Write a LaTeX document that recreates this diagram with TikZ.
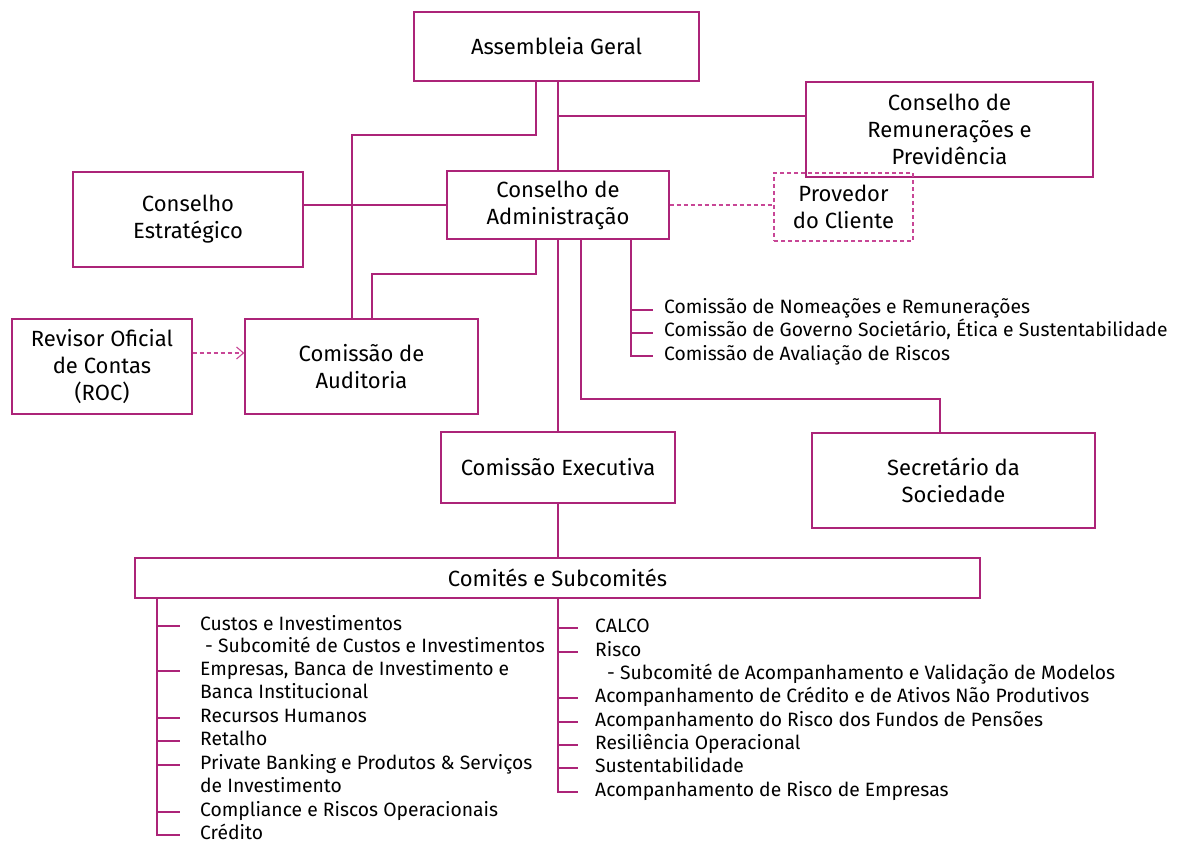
\documentclass[tikz,border=0pt]{standalone}
\usepackage{fontspec}
\setmainfont{Fira Sans}
\usetikzlibrary{arrows.meta,calc}
\definecolor{mag}{RGB}{172,36,120}
\definecolor{magd}{RGB}{200,70,150}
\begin{document}
\begin{tikzpicture}[x=1pt,y=-1pt,
  box/.style={draw=mag,line width=1.3pt,align=center,font=\fontsize{22}{27}\selectfont,inner sep=0pt},
  ln/.style={draw=mag,line width=1.3pt},
  dln/.style={draw=magd,line width=1.1pt,dash pattern=on 4pt off 3pt},
  itm/.style={anchor=west,inner sep=0pt,text height=13pt,text depth=5pt,font=\fontsize{19.3}{23}\selectfont}]
\useasboundingbox (0,0) rectangle (1179,845);
\fill[white] (0,0) rectangle (1179,845);
% boxes
\node[box,minimum width=285pt,minimum height=69pt] (AG) at (556.5,46.5) {Assembleia Geral};
\node[box,minimum width=287pt,minimum height=95pt] (Rem) at (949.5,129.5) {Conselho de\\Remunerações e\\Previdência};
\node[box,minimum width=222pt,minimum height=68pt] (CA) at (558,205) {Conselho de\\Administração};
\node[box,draw=magd,line width=1.1pt,dash pattern=on 4pt off 3pt,minimum width=139pt,minimum height=68pt] (Prov) at (843.5,207) {Provedor\\do Cliente};
\node[box,minimum width=230pt,minimum height=95pt] (Estr) at (188,219.5) {Conselho\\Estratégico};
\node[box,minimum width=180pt,minimum height=95pt] (Rev) at (102,366.5) {Revisor Oficial\\de Contas\\(ROC)};
\node[box,minimum width=233pt,minimum height=95pt] (Aud) at (361.5,366.5) {Comissão de\\Auditoria};
\node[box,minimum width=234pt,minimum height=71pt] (CE) at (558,467.5) {Comissão Executiva};
\node[box,minimum width=283pt,minimum height=95pt] (Sec) at (953.5,480.5) {Secretário da\\Sociedade};
\node[box,minimum width=845pt,minimum height=40pt] (Com) at (557.5,578) {Comités e Subcomités};
% connectors
\coordinate (b1) at (352,135);
\draw[ln] ([xshift=-20.5pt]AG.south) |- (b1) -- (b1 |- Aud.north);
\draw[ln] ([xshift=1.5pt]AG.south) -- (CA.north);
\coordinate (b2) at (558,116);
\draw[ln] (b2) -- (b2 -| Rem.west);
\draw[ln] (Estr.east |- CA.west) -- (CA.west);
\draw[dln] (CA.east) -- (CA.east -| Prov.west);
\coordinate (b3) at (372,274);
\draw[ln] ([xshift=-22pt]CA.south) |- (b3) -- (b3 |- Aud.north);
\draw[ln] (CA.south) -- (CE.north);
\coordinate (b4) at (940,399);
\draw[ln] ([xshift=23pt]CA.south) |- (b4) -- (b4 |- Sec.north);
\draw[dln,-{Straight Barb[length=7pt,width=12pt]}] ([yshift=13.5pt]Rev.east) -- ([yshift=13.5pt]Aud.west);
\draw[ln] (CE.south) -- (CE.south |- Com.north);
% commissions
\node[itm] (C1) at (664,310) {Comissão de Nomeações e Remunerações};
\node[itm] (C2) at (664,333) {Comissão de Governo Societário, Ética e Sustentabilidade};
\node[itm] (C3) at (664,356) {Comissão de Avaliação de Riscos};
\draw[ln] ([xshift=73pt]CA.south) |- ([xshift=-11pt]C3.west);
\coordinate (cv) at (631,239);
\draw[ln] (cv |- C1.west) -- ([xshift=-11pt]C1.west);
\draw[ln] (cv |- C2.west) -- ([xshift=-11pt]C2.west);
% left list
\node[itm] (L1) at (200,626) {Custos e Investimentos};
\node[itm] (L2) at (205,648) {- Subcomité de Custos e Investimentos};
\node[itm] (L3a) at (200,671) {Empresas, Banca de Investimento e};
\node[itm] (L3b) at (200,694) {Banca Institucional};
\node[itm] (L4) at (200,718) {Recursos Humanos};
\node[itm] (L5) at (200,741) {Retalho};
\node[itm] (L6a) at (200,765) {Private Banking e Produtos \& Serviços};
\node[itm] (L6b) at (200,788) {de Investimento};
\node[itm] (L7) at (200,812) {Compliance e Riscos Operacionais};
\node[itm] (L8) at (200,835) {Crédito};
\coordinate (lv) at (157,598);
\draw[ln] (lv) |- ([xshift=-20pt]L8.west);
\foreach \n in {L1,L3a,L4,L5,L6a,L7}
  \draw[ln] (lv |- \n.west) -- ([xshift=-20pt]\n.west);
% right list
\node[itm] (R1) at (595,628) {CALCO};
\node[itm] (R2) at (595,652) {Risco};
\node[itm] (R2s) at (607,675) {- Subcomité de Acompanhamento e Validação de Modelos};
\node[itm] (R3) at (595,698) {Acompanhamento de Crédito e de Ativos Não Produtivos};
\node[itm] (R4) at (595,722) {Acompanhamento do Risco dos Fundos de Pensões};
\node[itm] (R5) at (595,745) {Resiliência Operacional};
\node[itm] (R6) at (595,768) {Sustentabilidade};
\node[itm] (R7) at (595,792) {Acompanhamento de Risco de Empresas};
\coordinate (rv) at (558,598);
\draw[ln] (rv) |- ([xshift=-17pt]R7.west);
\foreach \n in {R1,R2,R3,R4,R5,R6}
  \draw[ln] (rv |- \n.west) -- ([xshift=-17pt]\n.west);
\end{tikzpicture}
\end{document}
